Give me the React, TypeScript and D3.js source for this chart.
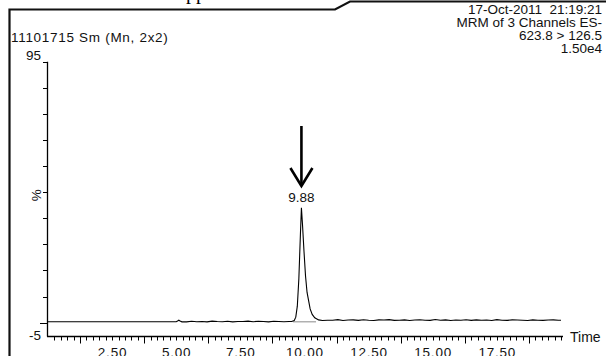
import { useEffect, useRef } from 'react';
import * as d3 from 'd3';

const width = 606;
const height = 356;

// retention time (min)
const times = [
    0, 5.0, 5.05, 5.1, 5.15, 5.22,
    5.4, 5.6, 5.8, 6.0, 6.2, 6.4, 6.6, 6.8, 7.0, 7.2, 7.4, 7.6, 7.8, 8.0, 8.2, 8.4, 8.6, 8.8, 9.0, 9.2, 9.4,
    9.5, 9.6, 9.66, 9.72, 9.78, 9.84, 9.88, 9.92, 9.98, 10.04, 10.1, 10.16, 10.22, 10.3, 10.4, 10.55, 10.7, 10.9,
    11.1, 11.3, 11.5, 11.7, 11.9, 12.1, 12.3, 12.5, 12.7, 12.9, 13.1, 13.3, 13.5, 13.7, 13.9, 14.1, 14.3, 14.5,
    14.7, 14.9, 15.1, 15.3, 15.5, 15.7, 15.9, 16.1, 16.3, 16.5, 16.7, 16.9, 17.1, 17.3, 17.5, 17.7, 17.9, 18.1,
    18.3, 18.5, 18.7, 18.9, 19.1, 19.3, 19.5, 19.7, 19.9, 20.0
];

// intensity (% of 1.50e4)
const intensity = [
    0.35, 0.35, 0.6, 0.9, 0.6, 0.3,
    0.3, 0.5, 0.35, 0.45, 0.3, 0.55, 0.4, 0.35, 0.5, 0.3, 0.45, 0.4, 0.55, 0.35, 0.5, 0.4, 0.3, 0.5, 0.45, 0.35, 0.4,
    0.4, 0.8, 2, 6, 16, 32, 41.8, 36, 26, 17, 11, 8, 5, 3, 1.8, 1.0, 0.8, 0.9,
    0.9, 1.1, 0.8, 0.95, 1.0, 0.85, 1.05, 0.9, 0.8, 1.0, 0.95, 1.1, 0.85, 0.9, 1.0, 0.8, 0.95, 1.05,
    0.9, 0.85, 1.15, 0.9, 1.0, 0.8, 0.95, 0.9, 1.05, 0.85, 1.0, 0.9, 0.95, 0.8, 1.1, 0.9, 0.85, 1.0,
    0.95, 0.9, 0.8, 1.0, 0.9, 0.85, 0.95, 1.0, 0.9, 0.9
];

const peakTime = 9.88;
const peakBaseline = [9.55, 10.45];

const yTickValues = [0, 9.5, 19, 28.5, 38, 47.5, 57, 66.5, 76, 85.5, 95];
const yLabelValues = [95, -5];
const xLabelValues = [2.5, 5, 7.5, 10, 12.5, 15, 17.5];
const xLongTicks = [1.25, 3.75, 6.25, 8.75, 11.25, 13.75, 16.25, 18.75];

const headerLeft = '11101715 Sm (Mn, 2x2)';
const headerRight = ['17-Oct-2011  21:19:21', 'MRM of 3 Channels ES-', '623.8 > 126.5', '1.50e4'];

const font = "'Liberation Sans', Arial, sans-serif";
const fontSize = 13.5;

export default function App() {
    const svgRef = useRef(null);

    useEffect(() => {
        const svg = d3.select(svgRef.current);
        svg.selectAll('*').remove();

        const xScale = d3.scaleLinear().domain([0, 20]).range([48, 561]);
        const yScale = d3.scaleLinear().domain([-5, 95]).range([336.4, 61.7]);

        // page frame (scan edge)
        svg.append('path')
            .attr('d', 'M9.5,356 L9.5,9.5 L335,9.5 L350,1.5 L606,1.5')
            .attr('fill', 'none')
            .attr('stroke', '#111')
            .attr('stroke-width', 2.2);

        // cut text from the page above
        svg.append('text')
            .attr('x', 186)
            .attr('y', -1)
            .attr('font-family', "'Liberation Serif', serif")
            .attr('font-size', 20)
            .attr('fill', '#000')
            .text('pp');

        // header
        svg.append('text')
            .attr('x', 11)
            .attr('y', 41.5)
            .attr('font-family', font)
            .attr('font-size', fontSize)
            .attr('letter-spacing', 0.7)
            .attr('fill', '#111')
            .text(headerLeft);

        svg.append('g')
            .selectAll('text')
            .data(headerRight)
            .join('text')
            .attr('x', 602)
            .attr('y', (_d, i) => 13.5 + i * 13.3)
            .attr('text-anchor', 'end')
            .attr('font-family', font)
            .attr('font-size', fontSize)
            .attr('fill', '#111')
            .style('white-space', 'pre')
            .text((d) => d);

        // Y axis
        const yAxisG = svg.append('g').attr('stroke', '#000');
        yAxisG.append('line')
            .attr('x1', 47.5)
            .attr('x2', 47.5)
            .attr('y1', yScale(95))
            .attr('y2', yScale(-5))
            .attr('stroke-width', 1.3);
        yAxisG.selectAll('.tick')
            .data(yTickValues)
            .join('line')
            .attr('class', 'tick')
            .attr('x1', (d) => (d === 0 ? 40 : 43))
            .attr('x2', 47.5)
            .attr('y1', (d) => Math.round(yScale(d)) + 0.5)
            .attr('y2', (d) => Math.round(yScale(d)) + 0.5);

        svg.append('g')
            .selectAll('text')
            .data(yLabelValues)
            .join('text')
            .attr('x', 41)
            .attr('y', (d) => (d === 95 ? yScale(d) - 2 : yScale(d) + 4))
            .attr('text-anchor', 'end')
            .attr('font-family', font)
            .attr('font-size', fontSize)
            .attr('fill', '#111')
            .text((d) => d);

        svg.append('text')
            .attr('transform', `translate(41, ${yScale(47.5) + 3}) rotate(-90)`)
            .attr('text-anchor', 'middle')
            .attr('font-family', font)
            .attr('font-size', fontSize)
            .attr('fill', '#111')
            .text('%');

        // X axis
        const xAxisY = Math.round(yScale(-5)) + 0.5;
        const xAxisG = svg.append('g').attr('stroke', '#000');
        xAxisG.append('line')
            .attr('x1', 47)
            .attr('x2', 563)
            .attr('y1', xAxisY)
            .attr('y2', xAxisY)
            .attr('stroke-width', 1.5);
        xAxisG.selectAll('.minor')
            .data(d3.range(0.25, 20.01, 0.25))
            .join('line')
            .attr('class', 'minor')
            .attr('x1', (d) => Math.round(xScale(d)) + 0.5)
            .attr('x2', (d) => Math.round(xScale(d)) + 0.5)
            .attr('y1', xAxisY)
            .attr('y2', xAxisY + 4);
        xAxisG.selectAll('.major')
            .data(xLongTicks)
            .join('line')
            .attr('class', 'major')
            .attr('x1', (d) => Math.round(xScale(d)) + 0.5)
            .attr('x2', (d) => Math.round(xScale(d)) + 0.5)
            .attr('y1', xAxisY)
            .attr('y2', xAxisY + 7);

        svg.append('g')
            .selectAll('text')
            .data(xLabelValues)
            .join('text')
            .attr('x', (d) => xScale(d) + 0.4)
            .attr('y', 357)
            .attr('text-anchor', 'middle')
            .attr('font-family', font)
            .attr('font-size', fontSize)
            .attr('letter-spacing', 0.8)
            .attr('fill', '#111')
            .text((d) => d3.format('.2f')(d));

        svg.append('text')
            .attr('x', 570)
            .attr('y', 342)
            .attr('font-family', font)
            .attr('font-size', fontSize + 0.5)
            .attr('fill', '#111')
            .text('Time');

        // integration baseline under the peak
        svg.append('line')
            .attr('x1', xScale(peakBaseline[0]))
            .attr('x2', xScale(peakBaseline[1]))
            .attr('y1', yScale(0.3))
            .attr('y2', yScale(0.3))
            .attr('stroke', '#8a8a8a')
            .attr('stroke-width', 1);

        // trace
        const points = times.map((t, i) => [t, intensity[i]]);
        const line = d3
            .line()
            .x((d) => xScale(d[0]))
            .y((d) => yScale(d[1]));
        svg.append('path')
            .datum(points)
            .attr('d', line)
            .attr('fill', 'none')
            .attr('stroke', '#000')
            .attr('stroke-width', 1.1);

        // peak label + arrow
        const px = xScale(peakTime);
        svg.append('text')
            .attr('x', px)
            .attr('y', 201.5)
            .attr('text-anchor', 'middle')
            .attr('font-family', font)
            .attr('font-size', fontSize)
            .attr('fill', '#111')
            .text(d3.format('.2f')(peakTime));

        const arrow = svg.append('g')
            .attr('stroke', '#000')
            .attr('stroke-width', 2.6)
            .attr('fill', 'none');
        arrow.append('line')
            .attr('x1', px)
            .attr('x2', px)
            .attr('y1', 126)
            .attr('y2', 185);
        arrow.append('path')
            .attr('d', `M${px - 11},168 L${px},186 L${px + 11},168`);
    }, []);

    return (
        <svg
            ref={svgRef}
            width={width}
            height={height}
            style={{ position: 'absolute', left: 0, top: 0, background: '#fff' }}
        />
    );
}
